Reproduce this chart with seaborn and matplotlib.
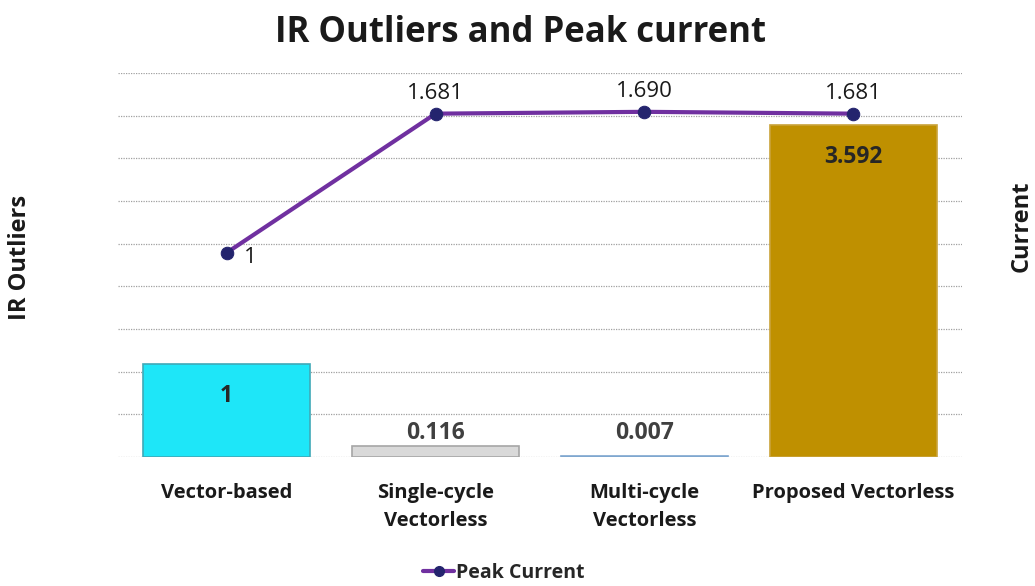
import numpy as np
import pandas as pd
import matplotlib
matplotlib.use("Agg")
import matplotlib.pyplot as plt
import seaborn as sns
from matplotlib.lines import Line2D

categories = ["Vector-based", "Single-cycle\nVectorless", "Multi-cycle\nVectorless", "Proposed Vectorless"]
ir_outliers = [1, 0.116, 0.007, 3.592]
ir_labels = ["1", "0.116", "0.007", "3.592"]
peak_current = [1, 1.681, 1.690, 1.681]
peak_labels = ["1", "1.681", "1.690", "1.681"]
bar_colors = ["#1EE6F8", "#D9D9D9", "#9DC3E6", "#BF9000"]
edge_colors = ["#3FA9B8", "#A6A6A6", "#7FA7CF", "#C9A33A"]

sns.set_theme(style="white")
plt.rcParams['font.family'] = ['Open Sans', 'DejaVu Sans']

fig = plt.figure(figsize=(10.35, 5.86), dpi=100)
ax = fig.add_axes([0.114, 0.2201, 0.8155, 0.6553])

df = pd.DataFrame({"cat": categories, "val": ir_outliers})
sns.barplot(data=df, x="cat", y="val", hue="cat", palette=bar_colors, legend=False,
            width=0.8, saturation=1, ax=ax, zorder=2)
for patch, ec in zip(ax.patches, edge_colors):
    patch.set_edgecolor(ec)
    patch.set_linewidth(1.2)

ax.set_xlim(-0.52, 3.52)
ax.set_ylim(0, 4.15)
ax.set_yticks(np.linspace(0, 4.15, 10))
ax.set_yticklabels([])
ax.tick_params(axis='y', length=0)
ax.tick_params(axis='x', length=0, pad=19)
ax.grid(axis='y', color='#A0A0A0', linestyle=(0, (1, 1)), linewidth=0.9, zorder=0)
for lab in ax.get_xticklabels():
    lab.set_fontweight('bold')
    lab.set_fontsize(14.5)
    lab.set_color('#1a1a1a')
    lab.set_linespacing(1.5)
for s in ax.spines.values():
    s.set_visible(False)
ax.set_xlabel("")
ax.set_ylabel("IR Outliers", fontsize=17, fontweight='bold', color='#1a1a1a',
              ha='center', va='center')
ax.yaxis.set_label_coords(-0.116, 0.52)

for i, (v, t) in enumerate(zip(ir_outliers, ir_labels)):
    if v >= 0.5:
        ax.annotate(t, xy=(i, v), xytext=(0, -32), textcoords='offset pixels',
                    ha='center', va='center', fontsize=16.5, fontweight='bold', color='#262626')
    else:
        ax.annotate(t, xy=(i, max(v, 0.12)), xytext=(0, 13), textcoords='offset pixels',
                    ha='center', va='center', fontsize=16.5, fontweight='bold', color='#404040')

ax2 = ax.twinx()
ax2.set_ylim(0, 1.88)
sns.lineplot(x=np.arange(len(peak_current)), y=peak_current, ax=ax2, color="#7030A0",
             linewidth=3, marker='o', markersize=9, markerfacecolor="#24246E",
             markeredgecolor="#24246E", zorder=3)
ax2.set_yticks([])
for s in ax2.spines.values():
    s.set_visible(False)
ax2.set_ylabel("Current", fontsize=17, fontweight='bold', color='#1a1a1a',
               rotation=90, ha='center', va='center')
ax2.yaxis.set_label_coords(1.071, 0.60)

for i, (v, t) in enumerate(zip(peak_current, peak_labels)):
    if i == 0:
        ax2.annotate(t, xy=(i, v), xytext=(24, -5), textcoords='offset pixels',
                     ha='center', va='center', fontsize=16, color='#1a1a1a')
    else:
        ax2.annotate(t, xy=(i, v), xytext=(0, 20), textcoords='offset pixels',
                     ha='center', va='center', fontsize=16, color='#1a1a1a')

fig.suptitle("IR Outliers and Peak current", fontsize=25, fontweight='bold', y=0.975, x=0.503, color='#1a1a1a')

handle = Line2D([0], [0], color="#7030A0", linewidth=3, marker='o', markersize=7,
                markerfacecolor="#24246E", markeredgecolor="#24246E")
fig.legend([handle], ["Peak Current"], loc='center', bbox_to_anchor=(0.487, 0.022),
           frameon=False, prop={'weight': 'bold', 'size': 14}, handlelength=1.6,
           handletextpad=0.1)

fig.savefig("out.png", dpi=100)
